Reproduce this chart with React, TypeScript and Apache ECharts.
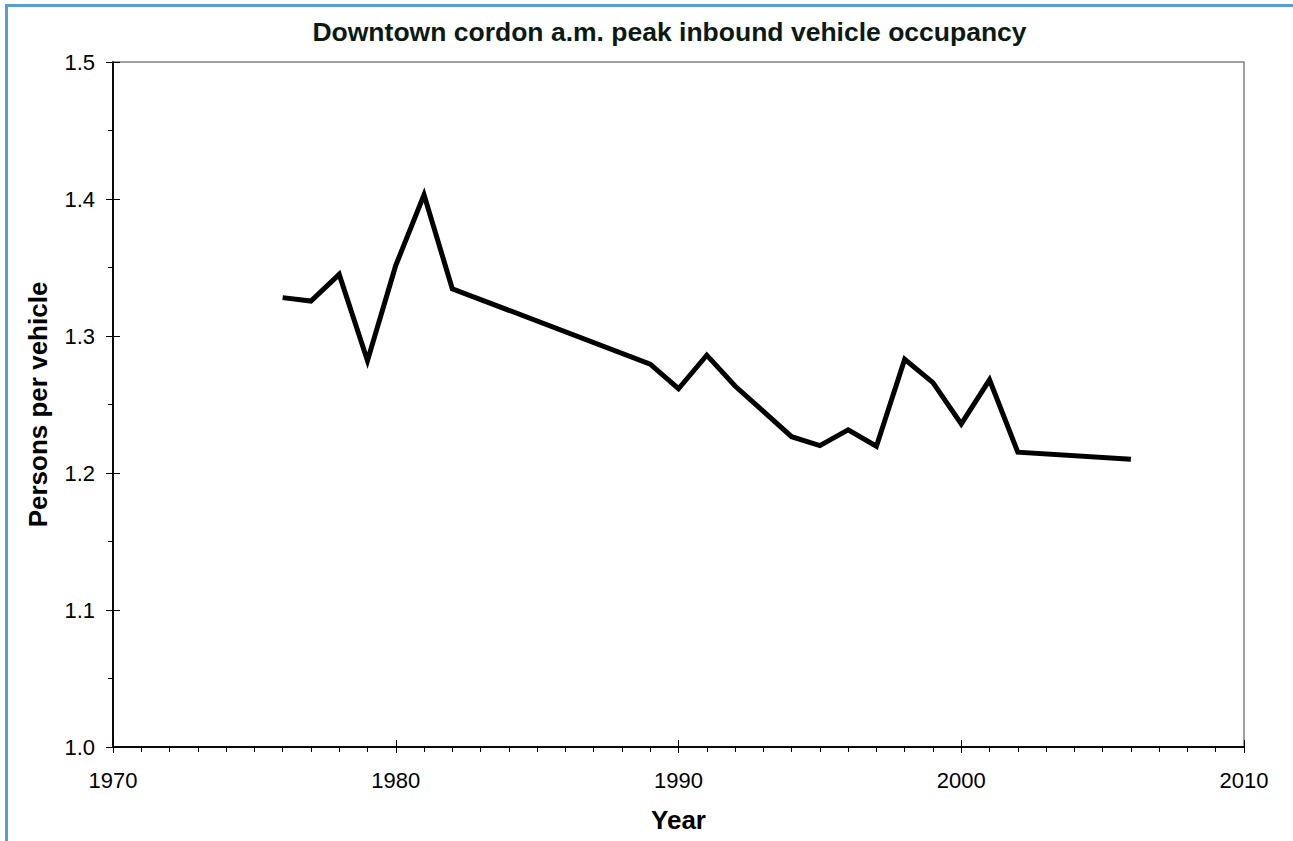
import React, { useEffect, useRef } from "react";
import * as echarts from "echarts";

const years = [1976, 1977, 1978, 1979, 1980, 1981, 1982, 1989, 1990, 1991, 1992, 1994, 1995, 1996, 1997, 1998, 1999, 2000, 2001, 2002, 2006];
const occupancy = [1.328, 1.3255, 1.345, 1.282, 1.3515, 1.403, 1.3345, 1.2795, 1.2615, 1.286, 1.2635, 1.2265, 1.22, 1.2315, 1.2195, 1.283, 1.266, 1.2358, 1.268, 1.2152, 1.21];

const titleText = "Downtown cordon a.m. peak inbound vehicle occupancy";
const xName = "Year";
const yName = "Persons per vehicle";

const FONT = "'Liberation Sans', Arial, sans-serif";

export default function App() {
  const ref = useRef<HTMLDivElement>(null);
  useEffect(() => {
    if (!ref.current) return;
    const chart = echarts.init(ref.current, null, { renderer: "svg" });
    const data = years.map((y, i) => [y, occupancy[i]]);
    chart.setOption({
      animation: false,
      backgroundColor: "#ffffff",
      textStyle: { fontFamily: FONT },
      graphic: [
        {
          type: "rect",
          shape: { x: 6.5, y: 5.5, width: 1320, height: 870 },
          style: { fill: "none", stroke: "#5b9bd5", lineWidth: 3 },
          silent: true,
        },
        {
          type: "text",
          x: 669.5,
          y: 32,
          style: {
            text: titleText,
            fontFamily: FONT,
            fontWeight: "bold",
            fontSize: 26.5,
            fill: "#0b1a12",
            align: "center",
            verticalAlign: "middle",
          },
        },
      ],
      grid: {
        left: 113,
        top: 62,
        width: 1131,
        height: 685,
        show: true,
        borderColor: "#808080",
        borderWidth: 1.5,
        backgroundColor: "transparent",
      },
      xAxis: [
        {
          type: "value",
          min: 1970,
          max: 2010,
          interval: 10,
          name: xName,
          nameLocation: "middle",
          nameGap: 60,
          nameTextStyle: { fontFamily: FONT, fontWeight: "bold", fontSize: 26, color: "#000" },
          axisLine: { show: true, lineStyle: { color: "#000", width: 1.5 } },
          axisTick: { show: true, inside: false, length: 6, lineStyle: { color: "#000", width: 1 } },
          minorTick: { show: true, splitNumber: 10, length: 5, lineStyle: { color: "#000", width: 1 } },
          axisLabel: {
            fontFamily: FONT,
            fontSize: 22,
            color: "#000",
            margin: 22,
            formatter: (v: number) => String(Math.round(v)),
          },
          splitLine: { show: false },
          minorSplitLine: { show: false },
        },
        {
          type: "value",
          position: "bottom",
          offset: 0,
          min: 1970,
          max: 2010,
          interval: 10,
          axisLine: { show: true, lineStyle: { color: "#000", width: 1.5 } },
          axisTick: { show: true, inside: true, length: 7, lineStyle: { color: "#000", width: 1 } },
          axisLabel: { show: false },
          splitLine: { show: false },
        },
      ],
      yAxis: [
        {
          type: "value",
          min: 1.0,
          max: 1.5,
          interval: 0.1,
          name: yName,
          nameLocation: "middle",
          nameGap: 62,
          nameRotate: 90,
          nameTextStyle: { fontFamily: FONT, fontWeight: "bold", fontSize: 26, color: "#000" },
          axisLine: { show: true, lineStyle: { color: "#000", width: 1.5 } },
          axisTick: { show: true, inside: false, length: 7, lineStyle: { color: "#000", width: 1 } },
          minorTick: { show: true, splitNumber: 2, length: 5, lineStyle: { color: "#000", width: 1 } },
          axisLabel: {
            fontFamily: FONT,
            fontSize: 22,
            color: "#000",
            margin: 18,
            formatter: (v: number) => v.toFixed(1),
          },
          splitLine: { show: false },
          minorSplitLine: { show: false },
        },
        {
          type: "value",
          position: "left",
          offset: 0,
          min: 1.0,
          max: 1.5,
          interval: 0.1,
          axisLine: { show: true, lineStyle: { color: "#000", width: 1.5 } },
          axisTick: { show: true, inside: true, length: 7, lineStyle: { color: "#000", width: 1 } },
          axisLabel: { show: false },
          splitLine: { show: false },
        },
      ],
      series: [
        {
          type: "line",
          xAxisIndex: 0,
          yAxisIndex: 0,
          data,
          showSymbol: false,
          symbol: "none",
          lineStyle: { color: "#000", width: 5, join: "miter" },
          itemStyle: { color: "#000" },
        },
      ],
    });
    return () => chart.dispose();
  }, []);
  return (
    <div
      ref={ref}
      style={{ position: "fixed", left: 0, top: 0, width: 1293, height: 841 }}
    />
  );
}
